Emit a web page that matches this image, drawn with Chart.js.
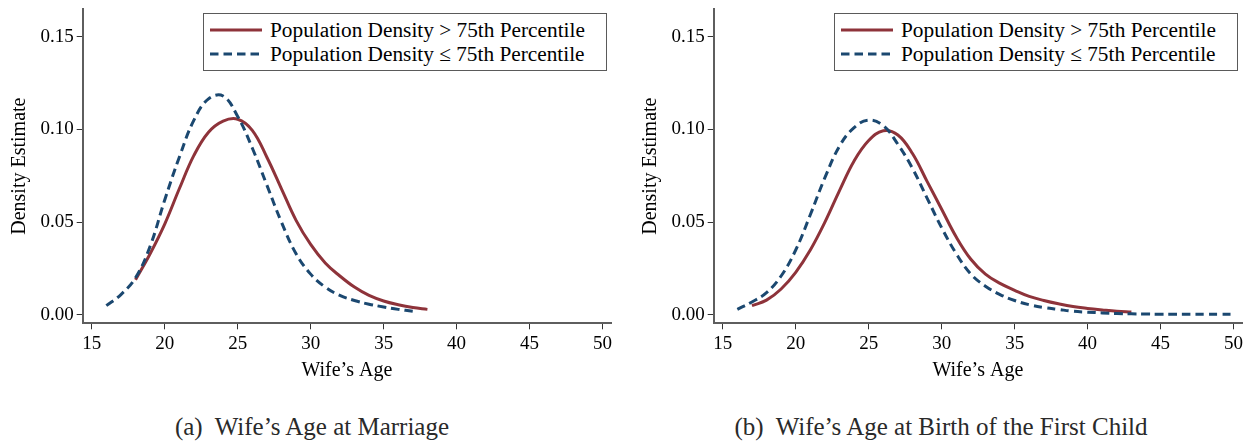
<!DOCTYPE html>
<html>
<head>
<meta charset="utf-8">
<script src="https://cdn.jsdelivr.net/npm/chart.js@4.4.1/dist/chart.umd.min.js"></script>
<style>
  html, body { margin: 0; padding: 0; background: #fff; }
  body { width: 1252px; height: 443px; position: relative; overflow: hidden; font-family: "Liberation Serif", "DejaVu Serif", serif; }
  .panel { position: absolute; top: 0; width: 620px; height: 400px; }
  .panel canvas { position: absolute; left: 0; top: 0; }
  .legend { position: absolute; left: 203px; top: 13px; width: 402px; height: 56px; border: 1.5px solid #5a5a5a; background: #fff; }
  .leg-row { position: absolute; left: 0; height: 24px; display: flex; align-items: center; }
  .leg-row svg { margin-left: 6px; margin-right: 8px; }
  .leg-row span { font-size: 21.3px; color: #000; white-space: nowrap; }
  .caption { position: absolute; top: 413px; font-size: 25px; color: #2a2a2a; white-space: pre; transform: translateX(-50%); }
</style>
</head>
<body>
<div class="panel" id="pA" style="left:0px;">
  <canvas id="cA" width="620" height="400"></canvas>
  <div class="legend">
    <div class="leg-row" style="top:4px;"><svg width="52" height="6"><line x1="0" y1="3" x2="52" y2="3" stroke="#8e333a" stroke-width="3"/></svg><span>Population Density &gt; 75th Percentile</span></div>
    <div class="leg-row" style="top:28px;"><svg width="52" height="6"><line x1="0" y1="3" x2="52" y2="3" stroke="#1b4870" stroke-width="3" stroke-dasharray="8.5,5"/></svg><span>Population Density ≤ 75th Percentile</span></div>
  </div>
</div>
<div class="panel" id="pB" style="left:631px;">
  <canvas id="cB" width="620" height="400"></canvas>
  <div class="legend">
    <div class="leg-row" style="top:4px;"><svg width="52" height="6"><line x1="0" y1="3" x2="52" y2="3" stroke="#8e333a" stroke-width="3"/></svg><span>Population Density &gt; 75th Percentile</span></div>
    <div class="leg-row" style="top:28px;"><svg width="52" height="6"><line x1="0" y1="3" x2="52" y2="3" stroke="#1b4870" stroke-width="3" stroke-dasharray="8.5,5"/></svg><span>Population Density ≤ 75th Percentile</span></div>
  </div>
</div>
<div class="caption" style="left:312px;">(a)  Wife’s Age at Marriage</div>
<div class="caption" style="left:941px;">(b)  Wife’s Age at Birth of the First Child</div>

<script>
// ---- Data ----
const seriesLabels = ["Population Density > 75th Percentile", "Population Density ≤ 75th Percentile"];
const xTickValues = [15, 20, 25, 30, 35, 40, 45, 50];
const yTickValues = [0.00, 0.05, 0.10, 0.15];
const xAxisTitle = "Wife’s Age";
const yAxisTitle = "Density Estimate";

// (a) Wife's age at marriage
const marriageAgesHigh = [18, 19, 20, 21, 22, 23, 24, 25, 26, 27, 28, 29, 30, 31, 32, 33, 34, 35, 36, 37, 38];
const marriageDensHigh = [0.019, 0.033, 0.049, 0.068, 0.086, 0.0985, 0.1045, 0.1055, 0.0995, 0.085, 0.068, 0.051, 0.038, 0.028, 0.021, 0.015, 0.0105, 0.0075, 0.0055, 0.004, 0.003];
const marriageAgesLow = [16, 17, 18, 19, 20, 21, 22, 23, 24, 25, 26, 27, 28, 29, 30, 31, 32, 33, 34, 35, 36, 37];
const marriageDensLow = [0.005, 0.011, 0.020, 0.037, 0.062, 0.085, 0.105, 0.1165, 0.118, 0.107, 0.090, 0.070, 0.050, 0.033, 0.022, 0.015, 0.0105, 0.0078, 0.0058, 0.0043, 0.003, 0.002];

// (b) Wife's age at birth of the first child
const birthAgesHigh = [17, 18, 19, 20, 21, 22, 23, 24, 25, 26, 27, 28, 29, 30, 31, 32, 33, 34, 35, 36, 37, 38, 39, 40, 41, 42, 43];
const birthDensHigh = [0.005, 0.008, 0.014, 0.023, 0.035, 0.050, 0.067, 0.083, 0.094, 0.0993, 0.097, 0.087, 0.072, 0.057, 0.042, 0.030, 0.022, 0.017, 0.0133, 0.010, 0.0078, 0.006, 0.0045, 0.0035, 0.0027, 0.002, 0.0016];
const birthAgesLow = [16, 17, 18, 19, 20, 21, 22, 23, 24, 25, 26, 27, 28, 29, 30, 31, 32, 33, 34, 35, 36, 37, 38, 39, 40, 41, 42, 43, 44, 45, 46, 47, 48, 49, 50];
const birthDensLow = [0.003, 0.007, 0.012, 0.021, 0.035, 0.054, 0.074, 0.091, 0.101, 0.105, 0.102, 0.092, 0.079, 0.063, 0.047, 0.033, 0.022, 0.0155, 0.011, 0.0078, 0.0055, 0.004, 0.003, 0.002, 0.0015, 0.0011, 0.0008, 0.0006, 0.0005, 0.0004, 0.0004, 0.0004, 0.0004, 0.0004, 0.0004];

// ---- Styling ----
const RED = "#8e333a";
const BLUE = "#1b4870";
const AXIS = "#5e5e5e";
const FONT = "'Liberation Serif', serif";

function pts(xs, ys) { return xs.map((x, i) => ({ x: x, y: ys[i] })); }

function makeChart(id, highX, highY, lowX, lowY) {
  const ctx = document.getElementById(id);
  return new Chart(ctx, {
    type: "line",
    data: {
      datasets: [
        { label: seriesLabels[0], data: pts(highX, highY), borderColor: RED, borderWidth: 3, pointRadius: 0, fill: false, tension: 0.4, order: 1 },
        { label: seriesLabels[1], data: pts(lowX, lowY), borderColor: BLUE, borderWidth: 3, borderDash: [8.5, 5], pointRadius: 0, fill: false, tension: 0.4, order: 0 }
      ]
    },
    options: {
      responsive: false,
      animation: false,
      events: [],
      layout: { padding: { left: 0, top: 9, right: 9, bottom: 0 } },
      plugins: { legend: { display: false }, title: { display: false }, tooltip: { enabled: false } },
      scales: {
        x: {
          type: "linear",
          min: 14.38,
          max: 50.58,
          afterBuildTicks: (s) => { s.ticks = xTickValues.map(v => ({ value: v })); },
          afterFit: (s) => { s.height = 76.7; s.paddingLeft = 0; s.paddingRight = 0; },
          grid: { display: true, drawOnChartArea: false, drawTicks: true, tickLength: 6, color: "#333", lineWidth: 1 },
          border: { display: true, color: AXIS, width: 2 },
          ticks: { color: "#000", font: { family: FONT, size: 19 }, padding: 3, maxRotation: 0, autoSkip: false },
          title: { display: true, text: xAxisTitle, color: "#000", font: { family: FONT, size: 20 }, padding: { top: 0, bottom: 17 } }
        },
        y: {
          type: "linear",
          min: -0.0045,
          max: 0.1649,
          afterBuildTicks: (s) => { s.ticks = yTickValues.map(v => ({ value: v })); },
          afterFit: (s) => { s.width = 82.7; s.paddingTop = 0; s.paddingBottom = 0; },
          grid: { display: true, drawOnChartArea: false, drawTicks: true, tickLength: 6, color: "#333", lineWidth: 1 },
          border: { display: true, color: AXIS, width: 2 },
          ticks: { color: "#000", font: { family: FONT, size: 19 }, padding: 3, callback: (v) => Number(v).toFixed(2) },
          title: { display: true, text: yAxisTitle, color: "#000", font: { family: FONT, size: 20 }, padding: { top: 8, bottom: 0 } }
        }
      }
    }
  });
}

makeChart("cA", marriageAgesHigh, marriageDensHigh, marriageAgesLow, marriageDensLow);
makeChart("cB", birthAgesHigh, birthDensHigh, birthAgesLow, birthDensLow);
</script>
</body>
</html>
